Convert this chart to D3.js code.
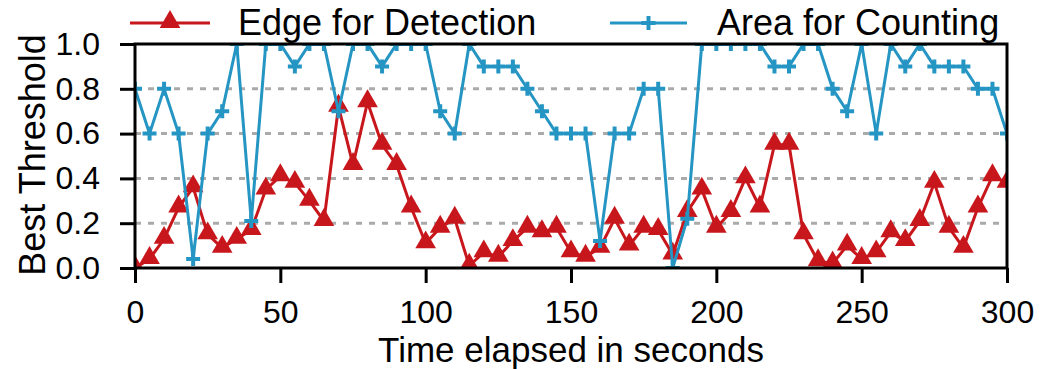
<!DOCTYPE html>
<html>
<head>
<meta charset="utf-8">
<script src="https://cdn.jsdelivr.net/npm/d3@7"></script>
<style>
  body { margin: 0; background: #fff; }
  svg { display: block; font-family: "Liberation Sans", Arial, sans-serif; }
</style>
</head>
<body>
<div id="chart"></div>
<script>
// time in seconds, one sample every 5 s
const times = d3.range(0, 301, 5);

const edgeDetection = [
    0.00, 0.04, 0.13, 0.27, 0.36, 0.15, 0.09, 0.13, 0.17, 0.35,
    0.41, 0.38, 0.30, 0.21, 0.72, 0.46, 0.74, 0.55, 0.46, 0.27,
    0.11, 0.18, 0.22, 0.01, 0.07, 0.05, 0.12, 0.18, 0.16, 0.18,
    0.07, 0.05, 0.09, 0.22, 0.10, 0.18, 0.17, 0.06, 0.25, 0.35,
    0.18, 0.25, 0.40, 0.27, 0.55, 0.55, 0.15, 0.03, 0.02, 0.10,
    0.04, 0.07, 0.16, 0.12, 0.21, 0.38, 0.18, 0.09, 0.27, 0.41,
    0.38
];

const areaCounting = [
    0.8, 0.6, 0.8, 0.6, 0.04, 0.6, 0.7, 1.0, 0.21, 1.0,
    1.0, 0.9, 1.0, 1.0, 0.7, 1.0, 1.0, 0.9, 1.0, 1.0,
    1.0, 0.7, 0.6, 1.0, 0.9, 0.9, 0.9, 0.8, 0.7, 0.6,
    0.6, 0.6, 0.12, 0.6, 0.6, 0.8, 0.8, 0.0, 0.22, 1.0,
    1.0, 1.0, 1.0, 1.0, 0.9, 0.9, 1.0, 1.0, 0.8, 0.7,
    1.0, 0.6, 1.0, 0.9, 1.0, 0.9, 0.9, 0.9, 0.8, 0.8,
    0.6
];

const xTicks = [0, 50, 100, 150, 200, 250, 300];
const yTicks = [0, 0.2, 0.4, 0.6, 0.8, 1.0];
const gridTicks = [0.2, 0.4, 0.6, 0.8];
const seriesNames = ['Edge for Detection', 'Area for Counting'];

const red = '#c8171c';
const blue = '#2595c3';

const margin = { top: 44, right: 36, bottom: 101, left: 135 };
const width = 1043 - margin.left - margin.right;
const height = 369 - margin.top - margin.bottom;

const svg = d3.select('#chart')
    .append('svg')
    .attr('width', 1043)
    .attr('height', 369);

svg.append('defs')
    .append('clipPath')
    .attr('id', 'plotClip')
    .append('rect')
    .attr('width', width)
    .attr('height', height);

const g = svg.append('g')
    .attr('transform', `translate(${margin.left}, ${margin.top})`);

const xScale = d3.scaleLinear().domain([0, 300]).range([0, width]);
const yScale = d3.scaleLinear().domain([0, 1]).range([height, 0]);

// dotted grid
g.selectAll('.grid')
    .data(gridTicks)
    .enter()
    .append('line')
    .attr('x1', 0)
    .attr('x2', width)
    .attr('y1', d => yScale(d))
    .attr('y2', d => yScale(d))
    .attr('stroke', '#aaa')
    .attr('stroke-width', 3)
    .attr('stroke-dasharray', '6,7');

const line = d3.line()
    .x((d, i) => xScale(times[i]))
    .y(d => yScale(d));

const plot = g.append('g').attr('clip-path', 'url(#plotClip)');

const triangle = d3.symbol().type(d3.symbolTriangle).size(185);
const plus = 'M-7,0H7M0,-7V7';

// red series
plot.append('path')
    .datum(edgeDetection)
    .attr('d', line)
    .attr('fill', 'none')
    .attr('stroke', red)
    .attr('stroke-width', 3);

plot.selectAll('.tri')
    .data(edgeDetection)
    .enter()
    .append('path')
    .attr('d', triangle)
    .attr('transform', (d, i) => `translate(${xScale(times[i])}, ${yScale(d) - 1})`)
    .attr('fill', red);

// blue series
plot.append('path')
    .datum(areaCounting)
    .attr('d', line)
    .attr('fill', 'none')
    .attr('stroke', blue)
    .attr('stroke-width', 3);

plot.selectAll('.plus')
    .data(areaCounting)
    .enter()
    .append('path')
    .attr('d', plus)
    .attr('transform', (d, i) => `translate(${xScale(times[i])}, ${yScale(d)})`)
    .attr('stroke', blue)
    .attr('stroke-width', 4);

// axes
const xAxis = g.append('g')
    .attr('transform', `translate(0, ${height})`)
    .call(d3.axisBottom(xScale).tickValues(xTicks).tickSize(15).tickPadding(17).tickFormat(d3.format('d')));

const yAxis = g.append('g')
    .call(d3.axisLeft(yScale).tickValues(yTicks).tickSize(15).tickPadding(20).tickFormat(d3.format('.1f')));

[xAxis, yAxis].forEach(ax => {
    ax.select('.domain').remove();
    ax.selectAll('line').attr('stroke', '#000').attr('stroke-width', 3);
    ax.selectAll('text')
        .attr('fill', '#000')
        .style('font-size', '32px')
        .style('font-family', '"Liberation Sans", Arial, sans-serif');
});

// frame
g.append('rect')
    .attr('width', width)
    .attr('height', height)
    .attr('fill', 'none')
    .attr('stroke', '#000')
    .attr('stroke-width', 3);

// axis titles
svg.append('text')
    .attr('x', margin.left + width / 2)
    .attr('y', 362)
    .attr('text-anchor', 'middle')
    .style('font-size', '35px')
    .text('Time elapsed in seconds');

svg.append('text')
    .attr('transform', 'translate(45, 155) rotate(-90)')
    .attr('text-anchor', 'middle')
    .style('font-size', '36px')
    .text('Best Threshold');

// legend
const legend = [
    { name: seriesNames[0], color: red, x1: 130, x2: 210, tx: 238, marker: 'tri' },
    { name: seriesNames[1], color: blue, x1: 610, x2: 687, tx: 717, marker: 'plus' }
];

legend.forEach(l => {
    svg.append('line')
        .attr('x1', l.x1)
        .attr('x2', l.x2)
        .attr('y1', 23)
        .attr('y2', 23)
        .attr('stroke', l.color)
        .attr('stroke-width', 3);

    const mx = (l.x1 + l.x2) / 2;
    if (l.marker === 'tri') {
        svg.append('path')
            .attr('d', triangle)
            .attr('transform', `translate(${mx}, 22)`)
            .attr('fill', l.color);
    } else {
        svg.append('path')
            .attr('d', plus)
            .attr('transform', `translate(${mx}, 23)`)
            .attr('stroke', l.color)
            .attr('stroke-width', 4);
    }

    svg.append('text')
        .attr('x', l.tx)
        .attr('y', 35)
        .style('font-size', '36px')
        .text(l.name);
});
</script>
</body>
</html>
